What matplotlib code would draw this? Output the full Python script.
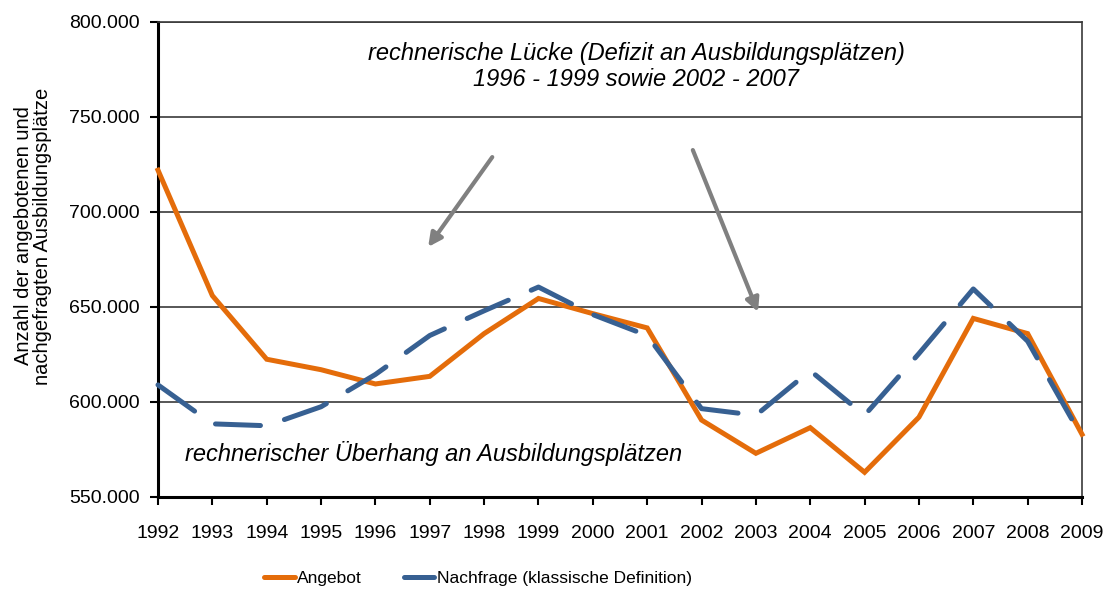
import matplotlib
matplotlib.use("Agg")
import matplotlib.pyplot as plt
from matplotlib.lines import Line2D
from matplotlib.ticker import FuncFormatter

years = list(range(1992, 2010))
angebot = [722000, 656000, 622500, 617000, 609500, 613500, 636000, 654500, 646500, 639000,
           590500, 573000, 586500, 563000, 592000, 644000, 636000, 583000]
nachfrage = [609000, 588500, 587500, 597500, 614500, 635000, 648000, 660500, 646000, 635000,
             596500, 593000, 616500, 593000, 625500, 659500, 632000, 581500]
labels = ["Angebot", "Nachfrage (klassische Definition)"]
yticks = [550000, 600000, 650000, 700000, 750000, 800000]

orange = "#E46C0A"
blue = "#376092"
gray = "#808080"
FONT = "Liberation Sans"

plt.rcParams["font.family"] = [FONT, "DejaVu Sans"]

fig = plt.figure(figsize=(11.07, 5.90), dpi=100)
ax = fig.add_axes([158 / 1107, 1 - 497 / 590, (1082 - 158) / 1107, (497 - 22) / 590])

ax.set_xlim(years[0], years[-1])
ax.set_ylim(yticks[0], yticks[-1])
ax.set_yticks(yticks)
ax.set_xticks(years)
ax.yaxis.set_major_formatter(FuncFormatter(lambda v, p: f"{int(v):,}".replace(",", ".")))
ax.tick_params(axis="both", labelsize=14, length=6, width=1.5, color="black")
ax.tick_params(axis="y", pad=7)
ax.tick_params(axis="x", pad=14)

ax.grid(axis="y", color="#3a3a3a", linewidth=1.2, zorder=0)
ax.set_axisbelow(True)
for s in ["left", "bottom"]:
    ax.spines[s].set_linewidth(2.2)
    ax.spines[s].set_color("black")
for s in ["top", "right"]:
    ax.spines[s].set_linewidth(1.2)
    ax.spines[s].set_color("#3a3a3a")

ax.plot(years, angebot, color=orange, lw=3.6, solid_joinstyle="miter", zorder=3, clip_on=False)
ax.plot(years, nachfrage, color=blue, lw=3.6, dashes=(9.0, 5.0), dash_capstyle="round",
        zorder=4, clip_on=False)

ax.text(2000.8, 776500, "rechnerische Lücke (Defizit an Ausbildungsplätzen)\n1996 - 1999 sowie 2002 - 2007",
        ha="center", va="center", fontsize=17, style="italic", linespacing=1.2)
ax.text(1992.5, 573000, "rechnerischer Überhang an Ausbildungsplätzen",
        ha="left", va="center", fontsize=17, style="italic")

arrow = dict(arrowstyle="-|>,head_length=0.8,head_width=0.4", color=gray, lw=3,
             shrinkA=0, shrinkB=0)
ax.annotate("", xy=(1996.97, 681600), xytext=(1998.15, 728900), arrowprops=arrow)
ax.annotate("", xy=(2003.04, 647400), xytext=(2001.84, 732600), arrowprops=arrow)

fig.text(33 / 1107, 1 - 236 / 590, "Anzahl der angebotenen und\nnachgefragten Ausbildungsplätze",
         rotation=90, ha="center", va="center", fontsize=14.5, multialignment="center",
         linespacing=1.0)

handles = [Line2D([], [], color=orange, lw=3.6, solid_capstyle="round"),
           Line2D([], [], color=blue, lw=3.6, solid_capstyle="round")]
fig.legend(handles, labels, loc="center", bbox_to_anchor=(478 / 1107, 1 - 578 / 590), ncol=2,
           frameon=False, fontsize=12.5, handlelength=1.75, handletextpad=0.15, columnspacing=2.4,
           borderaxespad=0, borderpad=0)

fig.savefig("out.png", dpi=100)
